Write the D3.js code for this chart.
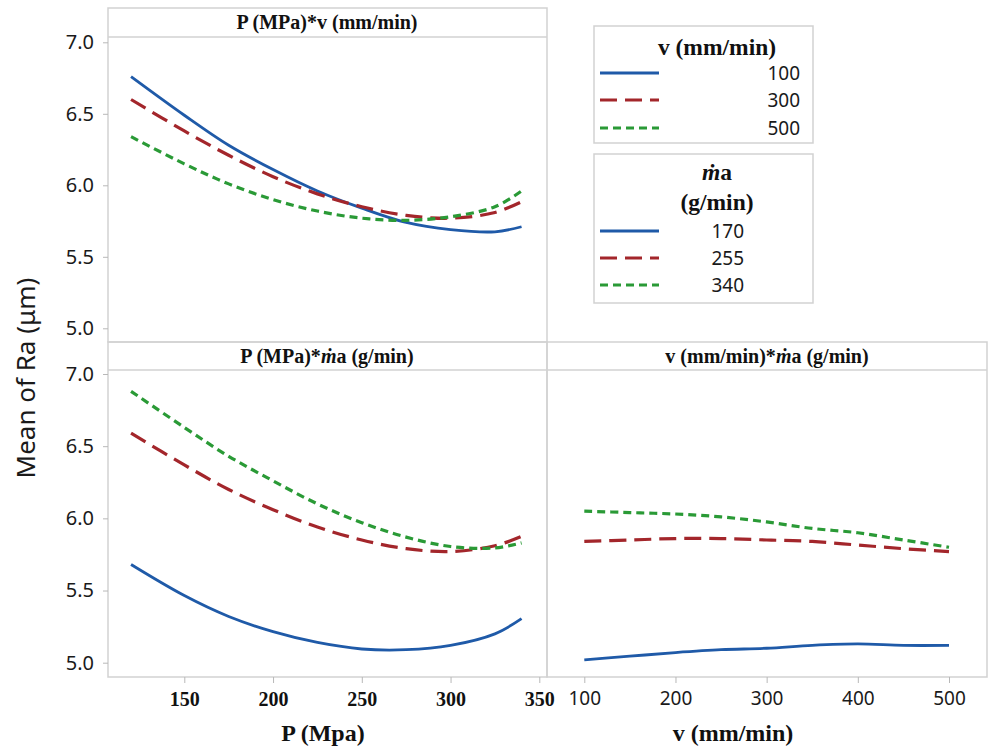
<!DOCTYPE html>
<meta charset="utf-8">
<style>
  body { margin: 0; background: #fff; }
  svg { display: block; }
  .frame { fill: none; stroke: #d2d2d2; stroke-width: 1.5; }
  .tick line { stroke: #b8b8b8; }
  .sans { font-family: "Noto Sans", "Open Sans", sans-serif; fill: #1a1a1a; }
  .serif { font-family: "Liberation Serif", "Times New Roman", serif; font-weight: bold; fill: #111; }
</style>
<svg width="989" height="746"></svg>
<script src="https://cdnjs.cloudflare.com/ajax/libs/d3/7.8.5/d3.min.js"></script>
<script>

// data
var pLevels = [120, 150, 175, 200, 225, 250, 275, 300, 325, 340];     // P (MPa)
var vLevels = [100, 150, 200, 250, 300, 350, 400, 450, 500];          // v (mm/min)
var yTicks = [5.0, 5.5, 6.0, 6.5, 7.0];
var pTicks = [150, 200, 250, 300, 350];
var vTicks = [100, 200, 300, 400, 500];

var vNames = ["100", "300", "500"];
var maNames = ["170", "255", "340"];

// P * v
var pv100 = [6.76, 6.49, 6.28, 6.11, 5.96, 5.84, 5.74, 5.69, 5.675, 5.71];
var pv300 = [6.60, 6.38, 6.21, 6.06, 5.94, 5.85, 5.79, 5.77, 5.81, 5.885];
var pv500 = [6.34, 6.15, 6.01, 5.90, 5.82, 5.77, 5.755, 5.78, 5.85, 5.96];

// P * ma
var pm170 = [5.68, 5.465, 5.32, 5.215, 5.14, 5.095, 5.09, 5.12, 5.20, 5.305];
var pm255 = [6.59, 6.37, 6.20, 6.06, 5.94, 5.85, 5.79, 5.77, 5.81, 5.875];
var pm340 = [6.88, 6.63, 6.43, 6.26, 6.10, 5.97, 5.87, 5.805, 5.795, 5.83];

// v * ma
var vm170 = [5.02, 5.045, 5.07, 5.09, 5.10, 5.12, 5.13, 5.12, 5.12];
var vm255 = [5.84, 5.85, 5.86, 5.86, 5.85, 5.84, 5.815, 5.79, 5.77];
var vm340 = [6.05, 6.04, 6.03, 6.01, 5.975, 5.93, 5.90, 5.85, 5.80];

var colors = ["#1f5aa8", "#a3262b", "#2a9a36"];
var dashes = [null, "17,8", "8,5"];
var widths = [2.8, 3.2, 3.2];

var svg = d3.select("svg");

// scales
var xP = d3.scaleLinear().domain([150, 350]).range([184.3, 539.3]);
var xV = d3.scaleLinear().domain([100, 500]).range([584.3, 949]);
var yTop = d3.scaleLinear().domain([5, 7]).range([328.3, 42.3]);
var yBot = d3.scaleLinear().domain([5, 7]).range([662.7, 374]);

// panel boxes
var panels = [
  {x0: 108, x1: 547, y0: 8, ys: 37, y1: 342},
  {x0: 108, x1: 547, y0: 342, ys: 370, y1: 677},
  {x0: 547, x1: 987, y0: 342, ys: 370, y1: 677}
];

panels.forEach(function(p) {
  svg.append("rect").attr("class", "frame")
    .attr("x", p.x0).attr("y", p.y0)
    .attr("width", p.x1 - p.x0).attr("height", p.y1 - p.y0);
  svg.append("line").attr("class", "frame")
    .attr("x1", p.x0).attr("x2", p.x1).attr("y1", p.ys).attr("y2", p.ys);
});

// strip titles
function maText(sel) {
  sel.append("tspan").attr("font-style", "italic").text("\u1E41");
  sel.append("tspan").text("a");
}
svg.append("text").attr("class", "serif").attr("font-size", 20)
  .attr("x", 327).attr("y", 29).attr("text-anchor", "middle")
  .text("P (MPa)*v (mm/min)");

var t2 = svg.append("text").attr("class", "serif").attr("font-size", 20)
  .attr("x", 327).attr("y", 363).attr("text-anchor", "middle");
t2.append("tspan").text("P (MPa)*");
maText(t2);
t2.append("tspan").text(" (g/min)");

var t3 = svg.append("text").attr("class", "serif").attr("font-size", 20)
  .attr("x", 767).attr("y", 363).attr("text-anchor", "middle");
t3.append("tspan").text("v (mm/min)*");
maText(t3);
t3.append("tspan").text(" (g/min)");

// y axes
function yAxis(scale) {
  var g = svg.append("g").attr("transform", "translate(108,0)")
    .call(d3.axisLeft(scale).tickValues(yTicks).tickFormat(d3.format(".1f")).tickSize(5).tickPadding(9));
  g.select(".domain").remove();
  g.selectAll("text").attr("class", "sans").attr("font-size", 20);
}
yAxis(yTop);
yAxis(yBot);

// x axes
var gxP = svg.append("g").attr("transform", "translate(0,677)")
  .call(d3.axisBottom(xP).tickValues(pTicks).tickSize(6).tickPadding(9));
gxP.select(".domain").remove();
gxP.selectAll("text").attr("class", "serif").attr("font-size", 20);

var gxV = svg.append("g").attr("transform", "translate(0,677)")
  .call(d3.axisBottom(xV).tickValues(vTicks).tickSize(6).tickPadding(9));
gxV.select(".domain").remove();
gxV.selectAll("text").attr("class", "sans").attr("font-size", 19);

svg.selectAll(".tick text").attr("font-family", null);

// axis titles
svg.append("text").attr("class", "serif").attr("font-size", 24)
  .attr("x", 323).attr("y", 741).attr("text-anchor", "middle").text("P (Mpa)");
svg.append("text").attr("class", "serif").attr("font-size", 24)
  .attr("x", 733).attr("y", 741).attr("text-anchor", "middle").text("v (mm/min)");
svg.append("text").attr("class", "sans").attr("font-size", 26)
  .attr("transform", "translate(35,378) rotate(-90)")
  .attr("text-anchor", "middle").text("Mean of Ra (\u03BCm)");

// lines
function drawSeries(xs, ysets, xScale, yScale) {
  var line = d3.line()
    .x(function(d) { return xScale(d[0]); })
    .y(function(d) { return yScale(d[1]); })
    .curve(d3.curveCatmullRom.alpha(0.5));
  ysets.forEach(function(vals, i) {
    svg.append("path")
      .datum(xs.map(function(x, j) { return [x, vals[j]]; }))
      .attr("d", line)
      .attr("fill", "none")
      .attr("stroke", colors[i])
      .attr("stroke-width", widths[i])
      .attr("stroke-dasharray", dashes[i]);
  });
}
drawSeries(pLevels, [pv100, pv300, pv500], xP, yTop);
drawSeries(pLevels, [pm170, pm255, pm340], xP, yBot);
drawSeries(vLevels, [vm170, vm255, vm340], xV, yBot);

// legends
function legend(y0, y1, titles, names, rowY, labelX) {
  svg.append("rect").attr("class", "frame")
    .attr("x", 594).attr("y", y0).attr("width", 219).attr("height", y1 - y0);
  titles.forEach(function(t) { t(); });
  names.forEach(function(n, i) {
    svg.append("line")
      .attr("x1", 600).attr("x2", 659).attr("y1", rowY[i]).attr("y2", rowY[i])
      .attr("stroke", colors[i]).attr("stroke-width", widths[i])
      .attr("stroke-dasharray", dashes[i]);
    svg.append("text").attr("class", "sans").attr("font-size", 19)
      .attr("x", labelX).attr("y", rowY[i] + 7).attr("text-anchor", "end").text(n);
  });
}

legend(26, 143, [function() {
  svg.append("text").attr("class", "serif").attr("font-size", 23.5)
    .attr("x", 717).attr("y", 55).attr("text-anchor", "middle").text("v (mm/min)");
}], vNames, [73, 100, 128], 800);

legend(154, 303, [function() {
  var t = svg.append("text").attr("class", "serif").attr("font-size", 23.5)
    .attr("x", 717).attr("y", 180).attr("text-anchor", "middle");
  maText(t);
}, function() {
  svg.append("text").attr("class", "serif").attr("font-size", 23.5)
    .attr("x", 717).attr("y", 210).attr("text-anchor", "middle").text("(g/min)");
}], maNames, [231, 258, 285], 744);

</script>
